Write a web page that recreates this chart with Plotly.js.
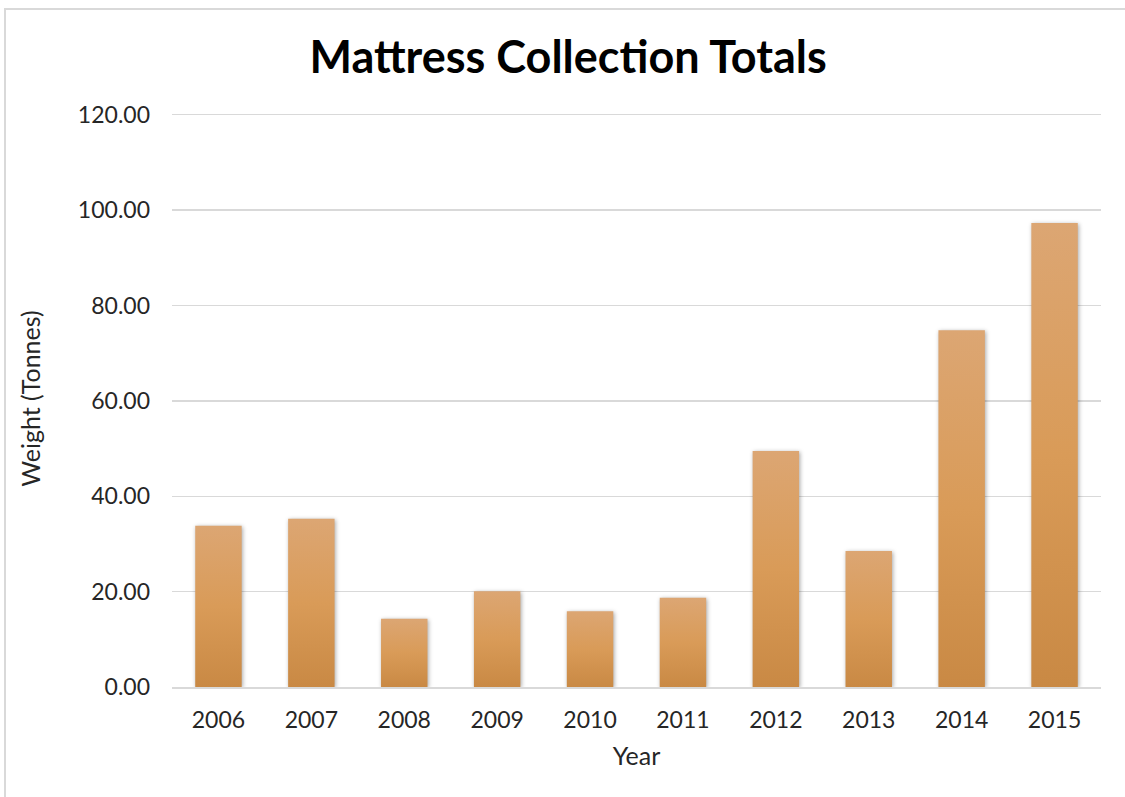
<!DOCTYPE html>
<html>
<head>
<meta charset="utf-8">
<script src="https://cdn.plot.ly/plotly-3.0.1.min.js"></script>
<style>
html,body{margin:0;padding:0;background:#fff;}
#frame{position:absolute;left:4px;top:8px;width:1200px;height:900px;border-left:2px solid #d9d9d9;border-top:2px solid #d9d9d9;pointer-events:none;z-index:5;}
#chart{width:1125px;height:797px;}
.barlayer .point path{filter:drop-shadow(1px 1px 2px rgba(0,0,0,0.35));}
</style>
</head>
<body>
<div id="frame"></div>
<div id="chart"></div>
<script>
const years = ['2006','2007','2008','2009','2010','2011','2012','2013','2014','2015'];
const weights = [33.8, 35.3, 14.3, 20.1, 15.9, 18.7, 49.5, 28.5, 74.8, 97.3];
const yTicks = [0, 20, 40, 60, 80, 100, 120];

const FONT = 'Lato, "Open Sans", sans-serif';

const trace = {
  type: 'bar',
  x: years,
  y: weights,
  marker: {color: '#D79A5A', line: {width: 0}},
  hoverinfo: 'x+y'
};

const layout = {
  width: 1125,
  height: 797,
  margin: {l: 172, r: 24, t: 110, b: 110},
  paper_bgcolor: '#ffffff',
  plot_bgcolor: '#ffffff',
  showlegend: false,
  bargap: 0.5,
  font: {family: FONT, color: '#404040', size: 22},
  title: {
    text: '<b>Mattress Collection Totals</b>',
    font: {family: FONT, size: 45, color: '#000000'},
    x: 0.505, xref: 'container', xanchor: 'center',
    y: 0.928, yref: 'container', yanchor: 'middle'
  },
  xaxis: {
    type: 'category',
    showgrid: false,
    showline: true,
    linecolor: '#d9d9d9',
    linewidth: 2,
    ticks: '',
    ticklabelstandoff: 11,
    tickfont: {family: FONT, size: 23, color: '#262626'},
    title: {text: 'Year', font: {family: FONT, size: 25, color: '#262626'}, standoff: 16}
  },
  yaxis: {
    range: [0, 121],
    tickvals: yTicks,
    tickformat: '.2f',
    showgrid: true,
    gridcolor: '#d9d9d9',
    gridwidth: 1.3,
    zeroline: false,
    showline: false,
    ticks: '',
    ticklabelstandoff: 21,
    tickfont: {family: FONT, size: 23, color: '#262626'},
    title: {text: 'Weight (Tonnes)', font: {family: FONT, size: 25, color: '#262626'}, standoff: 30}
  }
};

Plotly.newPlot('chart', [trace], layout, {displayModeBar: false, staticPlot: true}).then(function(gd){
  const svg = gd.querySelector('svg.main-svg');
  const ns = 'http://www.w3.org/2000/svg';
  let defs = svg.querySelector('defs');
  if (!defs) { defs = document.createElementNS(ns, 'defs'); svg.insertBefore(defs, svg.firstChild); }
  const g = document.createElementNS(ns, 'linearGradient');
  g.setAttribute('id', 'barGrad');
  g.setAttribute('x1', '0'); g.setAttribute('y1', '0');
  g.setAttribute('x2', '0'); g.setAttribute('y2', '1');
  [['0','#DCA673'],['0.5','#D99B58'],['1','#C98944']].forEach(function(s){
    const st = document.createElementNS(ns, 'stop');
    st.setAttribute('offset', s[0]);
    st.setAttribute('stop-color', s[1]);
    g.appendChild(st);
  });
  defs.appendChild(g);
  gd.querySelectorAll('.barlayer .point path').forEach(function(p){
    p.style.fill = 'url(#barGrad)';
  });
});
</script>
</body>
</html>
